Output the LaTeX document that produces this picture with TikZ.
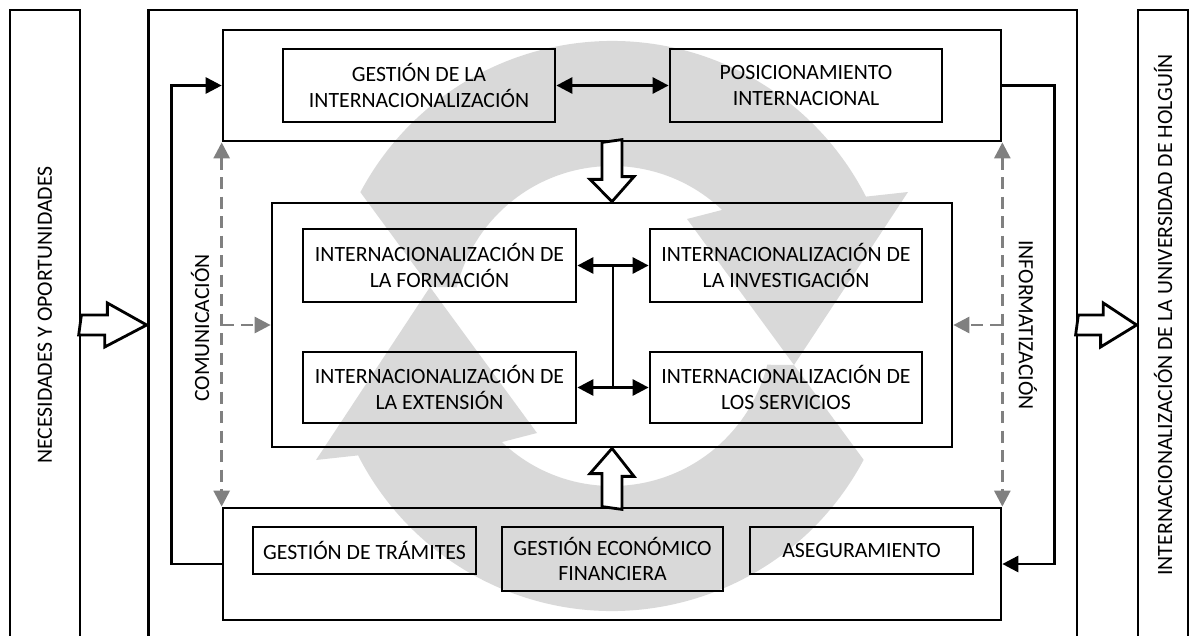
\documentclass[tikz,border=0pt]{standalone}
\usepackage{fontspec}
\setmainfont{Carlito}
\usepackage{tikz}
\usetikzlibrary{arrows.meta,calc}
\definecolor{ringgray}{HTML}{D9D9D9}
\definecolor{dashgray}{HTML}{808080}

\begin{document}
\begin{tikzpicture}[
      x=0.02cm, y=-0.02cm,
      line width=1.6pt,
      every node/.style={font=\fontsize{12.4}{14.6}\selectfont, align=center, inner sep=0pt},
      box/.style={draw, line width=1.6pt},
      flow/.style={-{Triangle[length=0.32cm, width=0.32cm]}},
      both/.style={{Triangle[length=0.32cm, width=0.32cm]}-{Triangle[length=0.32cm, width=0.32cm]}},
      comm/.style={dashgray, dash pattern=on 0.24cm off 0.15cm},
      hollow/.style={draw, fill=white, line width=1.6pt, line join=miter}
    ]
    \useasboundingbox (0,0) rectangle (1199,635);
    % cycle in the background
    \begin{scope}[shift={(612,326)}]
      \foreach \r in {0,180}
        \fill[ringgray, rotate=\r] (-152:285) arc[start angle=-152, end angle=-27, radius=285]
          -- (296,-134) -- (182,39) -- (75,-107) -- (-46.5:160)
          arc[start angle=-46.5, end angle=-166, radius=160] -- (-182,-39) -- cycle;
    \end{scope}
    \node[box, minimum width=1.4cm, minimum height=12.7cm] (leftb) at (45,327.5) {};
    \node[box, minimum width=18.58cm, minimum height=12.7cm] (mainb) at (612.5,327.5) {};
    \node[box, minimum width=1.0cm, minimum height=12.7cm] (rightb) at (1163,327.5) {};
    \node[rotate=90] (need) at (45,315) {NECESIDADES Y OPORTUNIDADES};
    \node[rotate=90] (result) at (1163,315) {INTERNACIONALIZACIÓN DE LA UNIVERSIDAD DE HOLGUÍN};

    \node[box, minimum width=15.56cm, minimum height=2.22cm] (gestion) at (612,85.5) {};
    \node[box, minimum width=5.44cm, minimum height=1.46cm] (gint) at (419,85.5) {GESTIÓN DE LA\\INTERNACIONALIZACIÓN};
    \node[box, minimum width=5.44cm, minimum height=1.46cm] (posic) at (806,85.5) {POSICIONAMIENTO\\INTERNACIONAL};

    \node[box, minimum width=13.6cm, minimum height=4.88cm] (core) at (612,325) {};
    \node[box, minimum width=5.46cm, minimum height=1.46cm] (form) at (439.5,265.5) {INTERNACIONALIZACIÓN DE\\LA FORMACIÓN};
    \node[box, minimum width=5.44cm, minimum height=1.46cm] (inv) at (786,265.5) {INTERNACIONALIZACIÓN DE\\LA INVESTIGACIÓN};
    \node[box, minimum width=5.46cm, minimum height=1.42cm] (ext) at (439.5,387.5) {INTERNACIONALIZACIÓN DE\\LA EXTENSIÓN};
    \node[box, minimum width=5.44cm, minimum height=1.42cm] (serv) at (786,387.5) {INTERNACIONALIZACIÓN DE\\LOS SERVICIOS};

    \node[box, minimum width=15.56cm, minimum height=2.24cm] (bottomb) at (612,564) {};
    \node[box, minimum width=4.46cm, minimum height=0.94cm] (tram) at (364.5,550.5) {GESTIÓN DE TRÁMITES};
    \node[box, minimum width=4.42cm, minimum height=1.28cm] (econ) at (612.5,559) {GESTIÓN ECONÓMICO\\FINANCIERA};
    \node[box, minimum width=4.46cm, minimum height=0.94cm] (aseg) at (861.5,550.5) {ASEGURAMIENTO};

    \node[rotate=90] (comlab) at (200,328) {COMUNICACIÓN};
    \node[rotate=-90] (inflab) at (1028,325) {INFORMATIZACIÓN};

    \draw[both] (gint.east) -- (posic.west);
    \coordinate (tup) at ($(form.east)!0.5!(inv.west)$);
    \coordinate (tdn) at ($(ext.east)!0.5!(serv.west)$);
    \draw (tup) -- (tdn);
    \draw[flow] (tup) -- (form.east);
    \draw[flow] (tup) -- (inv.west);
    \draw[flow] (tdn) -- (ext.east);
    \draw[flow] (tdn) -- (serv.west);

    \draw[flow] (bottomb.west) -- ++(-50,0) |- (gestion.west);
    \draw[flow] (gestion.east) -- ++(52,0) |- (bottomb.east);

    \draw[comm, {Triangle[length=0.32cm, width=0.32cm]}-{Triangle[length=0.32cm, width=0.32cm]}] (gestion.south west) -- (bottomb.north west);
    \draw[comm, -{Triangle[length=0.32cm, width=0.32cm]}] (gestion.south west |- core.west) -- (core.west);
    \draw[comm, {Triangle[length=0.32cm, width=0.32cm]}-{Triangle[length=0.32cm, width=0.32cm]}] (gestion.south east) -- (bottomb.north east);
    \draw[comm, -{Triangle[length=0.32cm, width=0.32cm]}] (gestion.south east |- core.east) -- (core.east);

    \draw[hollow] (gestion.south) ++(-10,0) -- ++(0,37) -- ++(-12,0) -- (core.north) -- ++(22,-25) -- ++(-12,0) -- ++(0,-37) -- cycle;
    \draw[hollow] (bottomb.north) ++(-10,0) -- ++(0,-33) -- ++(-12,0) -- (core.south) -- ++(22,28) -- ++(-12,0) -- ++(0,33) -- cycle;
    \draw[hollow] (leftb.east |- core.west) ++(0,-10) -- ++(26,0) -- ++(0,-12) -- (mainb.west |- core.west) -- ++(-42,22) -- ++(0,-12) -- ++(-26,0) -- cycle;
    \draw[hollow] (mainb.east |- core.east) ++(0,-10) -- ++(25,0) -- ++(0,-12) -- (rightb.west |- core.east) -- ++(-36,22) -- ++(0,-12) -- ++(-25,0) -- cycle;
  \end{tikzpicture}
\end{document}
